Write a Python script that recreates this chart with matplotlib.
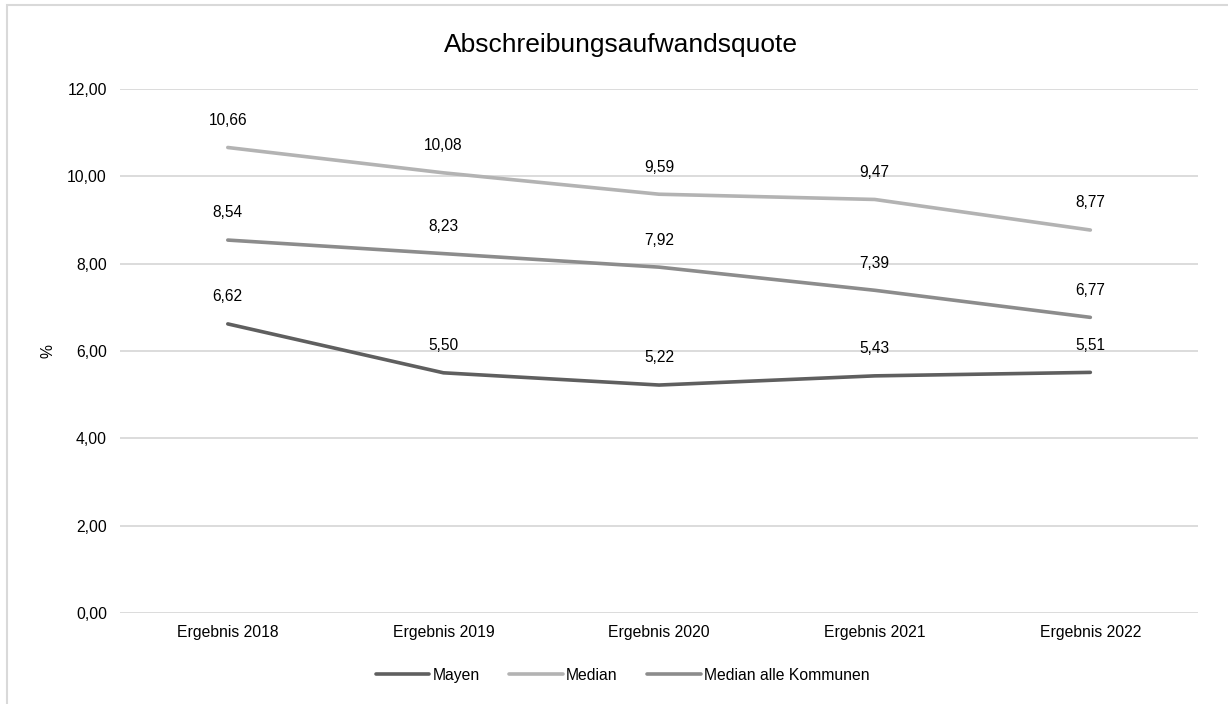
import matplotlib.pyplot as plt
from matplotlib.patches import Rectangle

plt.rcParams['font.family'] = ['Liberation Sans', 'DejaVu Sans']

# Jahre und Kennzahlen (Abschreibungsaufwandsquote in %)
categories = ['Ergebnis 2018', 'Ergebnis 2019', 'Ergebnis 2020', 'Ergebnis 2021', 'Ergebnis 2022']
mayen = [6.62, 5.50, 5.22, 5.43, 5.51]
median = [10.66, 10.08, 9.59, 9.47, 8.77]
median_alle = [8.54, 8.23, 7.92, 7.39, 6.77]
y_ticks = [0, 2, 4, 6, 8, 10, 12]

series = [
    ('Mayen', mayen, '#5f5f5f'),
    ('Median', median, '#b3b3b3'),
    ('Median alle Kommunen', median_alle, '#8c8c8c'),
]


def fmt(v):
    return f'{v:.2f}'.replace('.', ',')


fig = plt.figure(figsize=(12.28, 7.04), dpi=100)
fig.patches.append(Rectangle((7 / 1228, -0.1), 1.2, 1.1 - 5 / 704, transform=fig.transFigure,
                             fill=False, edgecolor='#d9d9d9', linewidth=1.5))

ax = fig.add_axes([0.0977, 0.1293, 0.878, 0.7443])
x = list(range(len(categories)))

for name, values, color in series:
    ax.plot(x, values, color=color, linewidth=2.6, label=name, solid_capstyle='round')
    for xi, v in zip(x, values):
        ax.annotate(fmt(v), (xi, v), xytext=(0, 19.5), textcoords='offset points',
                    ha='center', va='center', fontsize=11.2, color='#000000')

ax.set_xlim(-0.5, len(categories) - 0.5)
ax.set_ylim(0, 12)
ax.set_yticks(y_ticks)
ax.set_yticklabels([fmt(v) for v in y_ticks])
ax.set_xticks(x)
ax.set_xticklabels(categories)
ax.tick_params(axis='both', length=0, labelsize=11.3, colors='#000000')
ax.tick_params(axis='y', pad=9.4)
ax.tick_params(axis='x', pad=9)
ax.grid(axis='y', color='#d9d9d9', linewidth=1.3)
ax.set_axisbelow(True)
for s in ax.spines.values():
    s.set_visible(False)

ax.set_ylabel('%', fontsize=11.3)
ax.yaxis.label.set_va('center')
ax.yaxis.set_label_coords(-0.0668, 0.5)
fig.text(0.506, 0.936, 'Abschreibungsaufwandsquote', ha='center', va='center', fontsize=19)

fig.legend(loc='center', bbox_to_anchor=(0.507, 0.041), ncol=3, frameon=False,
           fontsize=11.3, handlelength=3.4, handletextpad=0.2, columnspacing=1.9)

fig.savefig('out.png', dpi=100)
